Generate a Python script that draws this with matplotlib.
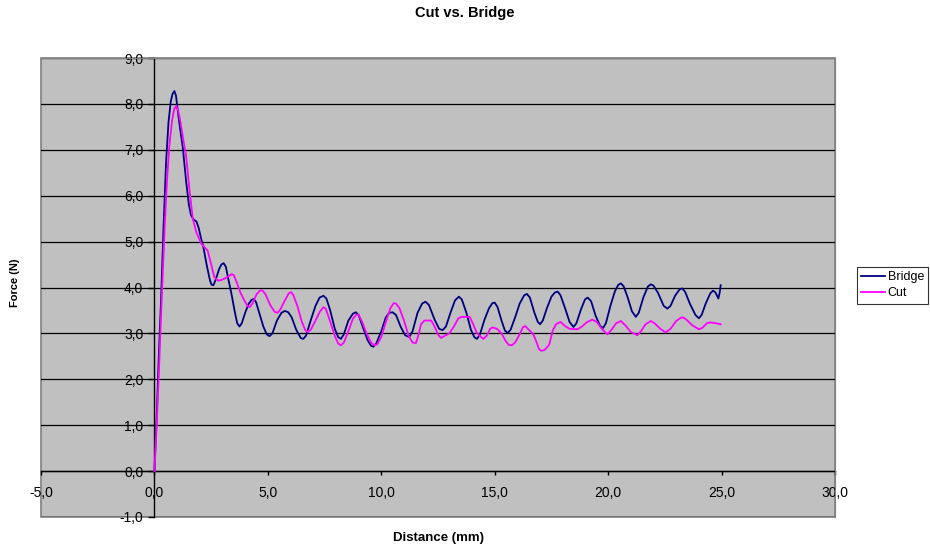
import matplotlib.pyplot as plt
from matplotlib.ticker import FuncFormatter

# data: (distance mm, force N)
bridge_pts = [
    (0, 0), (0.1, 1.2), (0.2, 2.6), (0.29, 3.7), (0.4, 5.3), (0.51, 6.7), (0.62, 7.6),
    (0.72, 8.05), (0.8, 8.22), (0.88, 8.28), (0.95, 8.18), (1.03, 7.85), (1.12, 7.5),
    (1.25, 7.05), (1.4, 6.3), (1.52, 5.8), (1.61, 5.58), (1.72, 5.48), (1.85, 5.44),
    (1.95, 5.3), (2.05, 5.08), (2.15, 4.9), (2.3, 4.5), (2.45, 4.15), (2.52, 4.06),
    (2.6, 4.05), (2.7, 4.17), (2.85, 4.4), (2.95, 4.5), (3.05, 4.53), (3.15, 4.45),
    (3.25, 4.2), (3.4, 3.85), (3.55, 3.45), (3.65, 3.22), (3.75, 3.15), (3.85, 3.22),
    (4.0, 3.45), (4.15, 3.64), (4.28, 3.73), (4.38, 3.75), (4.48, 3.68), (4.6, 3.48),
    (4.8, 3.15), (4.95, 2.98), (5.07, 2.94), (5.2, 3.0), (5.4, 3.28), (5.6, 3.45),
    (5.75, 3.49), (5.9, 3.46), (6.05, 3.35), (6.25, 3.08), (6.45, 2.9), (6.56, 2.88),
    (6.68, 2.95), (6.9, 3.3), (7.1, 3.6), (7.28, 3.78), (7.45, 3.82), (7.58, 3.76),
    (7.75, 3.5), (7.95, 3.1), (8.1, 2.92), (8.22, 2.88), (8.35, 2.98), (8.55, 3.28),
    (8.75, 3.43), (8.88, 3.46), (9.0, 3.4), (9.2, 3.12), (9.4, 2.85), (9.55, 2.73),
    (9.65, 2.71), (9.78, 2.78), (10.0, 3.05), (10.2, 3.35), (10.35, 3.45), (10.5, 3.46),
    (10.65, 3.4), (10.85, 3.15), (11.05, 2.96), (11.23, 2.92), (11.38, 3.05), (11.6, 3.45),
    (11.8, 3.65), (11.95, 3.69), (12.1, 3.62), (12.35, 3.3), (12.55, 3.1), (12.7, 3.07),
    (12.85, 3.15), (13.05, 3.45), (13.25, 3.72), (13.42, 3.8), (13.55, 3.74), (13.75, 3.45),
    (13.95, 3.08), (14.1, 2.92), (14.22, 2.88), (14.35, 2.98), (14.55, 3.3), (14.75, 3.55),
    (14.9, 3.66), (15.0, 3.67), (15.12, 3.58), (15.3, 3.28), (15.45, 3.06), (15.58, 3.01),
    (15.7, 3.08), (15.9, 3.35), (16.1, 3.65), (16.3, 3.83), (16.42, 3.86), (16.55, 3.78),
    (16.75, 3.45), (16.9, 3.25), (17.0, 3.2), (17.12, 3.28), (17.3, 3.55), (17.5, 3.8),
    (17.65, 3.89), (17.78, 3.91), (17.9, 3.83), (18.1, 3.55), (18.3, 3.25), (18.47, 3.14),
    (18.6, 3.22), (18.8, 3.52), (18.98, 3.74), (19.1, 3.78), (19.25, 3.7), (19.45, 3.38),
    (19.65, 3.16), (19.78, 3.12), (19.9, 3.22), (20.1, 3.6), (20.3, 3.92), (20.45, 4.06),
    (20.56, 4.09), (20.68, 4.03), (20.85, 3.8), (21.05, 3.48), (21.22, 3.36), (21.35, 3.45),
    (21.55, 3.78), (21.75, 4.02), (21.88, 4.07), (22.0, 4.04), (22.2, 3.88), (22.45, 3.6),
    (22.61, 3.54), (22.75, 3.6), (22.95, 3.82), (23.15, 3.96), (23.27, 3.98), (23.4, 3.9),
    (23.6, 3.65), (23.85, 3.4), (24.0, 3.33), (24.12, 3.4), (24.3, 3.65), (24.5, 3.87),
    (24.62, 3.93), (24.72, 3.9), (24.8, 3.82), (24.86, 3.76), (24.92, 3.9), (24.96, 4.05),
]

cut_pts = [
    (0, 0), (0.1, 1.0), (0.2, 2.2), (0.3, 3.5), (0.45, 5.3), (0.55, 6.3), (0.66, 7.1),
    (0.78, 7.65), (0.88, 7.9), (0.97, 7.96), (1.05, 7.85), (1.15, 7.6), (1.28, 7.2),
    (1.4, 6.85), (1.55, 6.1), (1.69, 5.5), (1.85, 5.2), (2.06, 4.96), (2.2, 4.88),
    (2.35, 4.8), (2.5, 4.5), (2.64, 4.23), (2.8, 4.15), (2.94, 4.16), (3.2, 4.22),
    (3.4, 4.29), (3.5, 4.27), (3.62, 4.12), (3.8, 3.88), (3.96, 3.72), (4.1, 3.6),
    (4.2, 3.57), (4.32, 3.65), (4.5, 3.85), (4.65, 3.93), (4.75, 3.94), (4.9, 3.85),
    (5.1, 3.62), (5.3, 3.47), (5.43, 3.45), (5.55, 3.52), (5.75, 3.72), (5.92, 3.87),
    (6.02, 3.9), (6.12, 3.84), (6.3, 3.6), (6.5, 3.25), (6.65, 3.07), (6.75, 3.03),
    (6.88, 3.07), (7.1, 3.28), (7.3, 3.48), (7.45, 3.57), (7.55, 3.54), (7.72, 3.3),
    (7.95, 2.95), (8.1, 2.78), (8.22, 2.74), (8.35, 2.8), (8.55, 3.05), (8.75, 3.32),
    (8.9, 3.41), (9.0, 3.4), (9.15, 3.26), (9.35, 3.0), (9.55, 2.8), (9.7, 2.74),
    (9.82, 2.76), (10.0, 2.92), (10.2, 3.25), (10.4, 3.55), (10.55, 3.66), (10.65, 3.65),
    (10.8, 3.55), (11.0, 3.28), (11.2, 2.95), (11.38, 2.8), (11.53, 2.79), (11.65, 2.98),
    (11.75, 3.2), (11.9, 3.28), (12.2, 3.28), (12.35, 3.15), (12.5, 2.98), (12.63, 2.9),
    (12.8, 2.95), (13.0, 3.0), (13.2, 3.15), (13.4, 3.33), (13.55, 3.36), (13.9, 3.36),
    (14.05, 3.2), (14.2, 3.02), (14.35, 2.94), (14.5, 2.88), (14.65, 2.95), (14.8, 3.1),
    (14.9, 3.13), (15.1, 3.1), (15.3, 3.0), (15.5, 2.82), (15.62, 2.75), (15.75, 2.74),
    (15.9, 2.8), (16.1, 2.98), (16.25, 3.14), (16.35, 3.16), (16.5, 3.08), (16.7, 2.98),
    (16.85, 2.8), (16.95, 2.66), (17.05, 2.62), (17.2, 2.64), (17.4, 2.75), (17.55, 3.05),
    (17.7, 3.2), (17.9, 3.25), (18.1, 3.16), (18.3, 3.1), (18.65, 3.09), (18.85, 3.15),
    (19.05, 3.24), (19.3, 3.3), (19.5, 3.25), (19.75, 3.08), (19.97, 2.98), (20.15, 3.08),
    (20.35, 3.22), (20.56, 3.27), (20.75, 3.18), (21.0, 3.03), (21.29, 2.96), (21.45, 3.05),
    (21.65, 3.2), (21.88, 3.27), (22.05, 3.22), (22.3, 3.1), (22.54, 3.02), (22.75, 3.1),
    (23.0, 3.27), (23.2, 3.34), (23.3, 3.35), (23.45, 3.3), (23.7, 3.18), (24.0, 3.09),
    (24.15, 3.12), (24.35, 3.22), (24.5, 3.24), (24.75, 3.22), (24.96, 3.2),
]

x_ticks = [-5, 0, 5, 10, 15, 20, 25, 30]
y_ticks = [-1, 0, 1, 2, 3, 4, 5, 6, 7, 8, 9]

bridge_x = [p[0] for p in bridge_pts]
bridge_y = [p[1] for p in bridge_pts]
cut_x = [p[0] for p in cut_pts]
cut_y = [p[1] for p in cut_pts]

plt.rcParams['font.family'] = ['Liberation Sans', 'DejaVu Sans']

fig = plt.figure(figsize=(9.3, 5.48), dpi=100)
ax = fig.add_axes([41/930, 31/548, 794/930, 459/548])

ax.set_facecolor('#C0C0C0')
ax.patch.set_edgecolor('#808080')
ax.patch.set_linewidth(1.2)

# horizontal gridlines
for y in y_ticks:
    ax.axhline(y, color='black', lw=0.9, zorder=1)

ax.plot(bridge_x, bridge_y, color='#000080', lw=1.3, label='Bridge', zorder=3)
ax.plot(cut_x, cut_y, color='#FF00FF', lw=1.3, label='Cut', zorder=3)

ax.set_xlim(-5, 30)
ax.set_ylim(-1, 9)

# axes crossing at zero, like the spreadsheet chart
ax.spines['left'].set_position(('data', 0))
ax.spines['bottom'].set_position(('data', 0))
for s in ['left', 'bottom']:
    ax.spines[s].set_color('black')
    ax.spines[s].set_linewidth(1.0)
    ax.spines[s].set_zorder(2)
for s in ['top', 'right']:
    ax.spines[s].set_color('#808080')

ax.set_xticks(x_ticks)
ax.set_yticks(y_ticks)
fmt = FuncFormatter(lambda v, p: f'{v:.1f}'.replace('.', ','))
ax.xaxis.set_major_formatter(fmt)
ax.yaxis.set_major_formatter(fmt)
ax.tick_params(axis='x', direction='out', length=3, width=1, labelsize=10, pad=8)
ax.tick_params(axis='y', direction='out', length=4, width=1, labelsize=10, pad=4)

fig.text(0.5, 0.977, 'Cut vs. Bridge', ha='center', va='center', fontsize=10.5, fontweight='bold')
fig.text(438/930, 0.018, 'Distance (mm)', ha='center', va='center', fontsize=9.5, fontweight='bold')
fig.text(0.016, 0.484, 'Force (N)', ha='center', va='center', rotation=90, fontsize=8,
         fontweight='bold')

leg = fig.legend(loc='upper left', bbox_to_anchor=(857/930, 1 - 267/548), fontsize=9,
                 frameon=True, fancybox=False, handlelength=1.9, borderpad=0.35,
                 labelspacing=0.3, handletextpad=0.2, borderaxespad=0)
leg.get_frame().set_edgecolor('black')
leg.get_frame().set_linewidth(0.8)

fig.savefig('out.png', dpi=100)
